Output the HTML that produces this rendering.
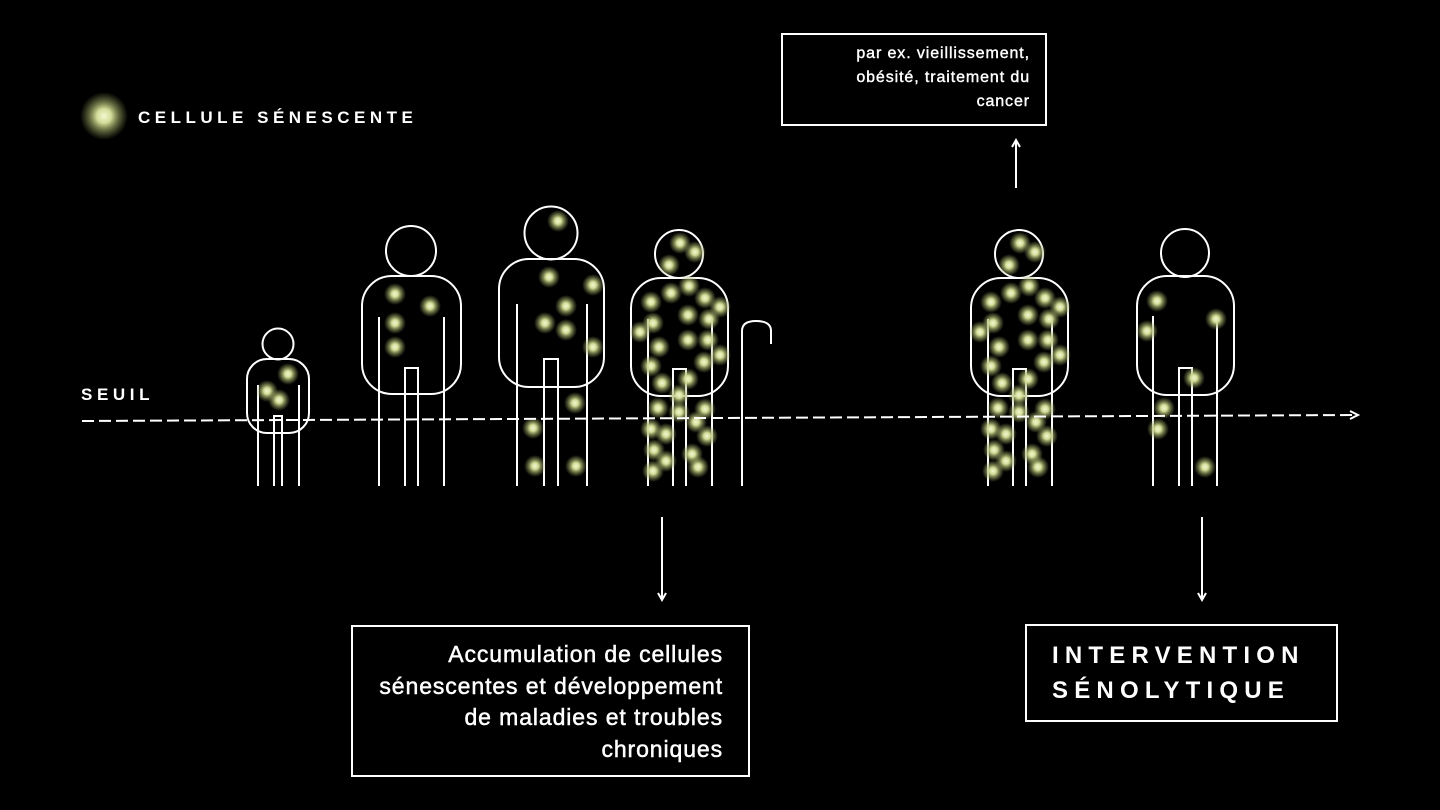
<!DOCTYPE html>
<html><head><meta charset="utf-8"><style>
html,body{margin:0;padding:0;background:#000;width:1440px;height:810px;overflow:hidden}
svg{display:block}
text{font-family:"Liberation Sans",sans-serif;fill:#fff}
</style></head><body>
<svg width="1440" height="810" viewBox="0 0 1440 810">
<defs>
<radialGradient id="g"><stop offset="0" stop-color="#f4f8d2"/><stop offset="0.3" stop-color="#d3dc98"/><stop offset="0.6" stop-color="#a8b36c" stop-opacity="0.6"/><stop offset="1" stop-color="#8f9a5a" stop-opacity="0"/></radialGradient>
<g id="elder">
<g fill="none" stroke="#fff" stroke-width="2">
<circle cx="679" cy="254" r="24"/>
<rect x="631" y="278" width="97" height="118" rx="30"/>
<path d="M648 319V486M712 319V486M673 486V369H686V486"/>
</g>
<g fill="url(#g)">
<circle cx="680" cy="243" r="11"/><circle cx="695" cy="252" r="11"/><circle cx="669" cy="265" r="11"/>
<circle cx="689" cy="286" r="11"/><circle cx="671" cy="293" r="11"/><circle cx="651" cy="302" r="11"/><circle cx="705" cy="298" r="11"/><circle cx="720" cy="307" r="11"/><circle cx="688" cy="315" r="11"/><circle cx="709" cy="319" r="11"/><circle cx="653" cy="323" r="11"/><circle cx="640" cy="332" r="11"/><circle cx="688" cy="340" r="11"/><circle cx="708" cy="340" r="11"/><circle cx="659" cy="347" r="11"/><circle cx="720" cy="355" r="11"/><circle cx="704" cy="362" r="11"/><circle cx="651" cy="366" r="11"/><circle cx="688" cy="379" r="11"/><circle cx="662" cy="383" r="11"/><circle cx="679" cy="395" r="11"/><circle cx="658" cy="408" r="11"/><circle cx="679" cy="412" r="11"/><circle cx="705" cy="409" r="11"/><circle cx="696" cy="422" r="11"/><circle cx="651" cy="429" r="11"/><circle cx="666" cy="434" r="11"/><circle cx="707" cy="436" r="11"/><circle cx="654" cy="450" r="11"/><circle cx="692" cy="454" r="11"/><circle cx="666" cy="461" r="11"/><circle cx="653" cy="471" r="11"/><circle cx="698" cy="467" r="11"/>
</g>
</g>
</defs>
<rect width="1440" height="810" fill="#000"/>
<circle cx="104" cy="116" r="24" fill="url(#g)"/>
<text x="138" y="123" font-size="17" font-weight="bold" letter-spacing="4.5">CELLULE SÉNESCENTE</text>
<text x="81" y="400" font-size="17" font-weight="bold" letter-spacing="4.6">SEUIL</text>

<g fill="none" stroke="#fff" stroke-width="2">
<circle cx="278" cy="344" r="15.5"/>
<rect x="247" y="359" width="62" height="74" rx="20"/>
<path d="M258 385V486M299 385V486M274 486V416H282V486"/>
<circle cx="411" cy="251" r="25"/>
<rect x="362" y="276" width="99" height="118" rx="30"/>
<path d="M379 317V486M444 317V486M405 486V368H418V486"/>
<circle cx="551" cy="233" r="26.5"/>
<rect x="499" y="259" width="105" height="128" rx="30"/>
<path d="M517 304V486M587 304V486M544 486V359H558V486"/>
<path d="M742 486V331Q742 321 756 321Q771 321 771 331V344"/>
<circle cx="1185" cy="253" r="24"/>
<rect x="1137" y="276" width="97" height="119" rx="30"/>
<path d="M1153 316V486M1217 316V486M1179 486V368H1192V486"/>
</g>
<use href="#elder"/>
<use href="#elder" transform="translate(340,0)"/>

<g fill="url(#g)">
<circle cx="288" cy="374" r="11"/><circle cx="267" cy="391" r="11"/><circle cx="279" cy="400" r="11"/>
<circle cx="395" cy="294" r="11"/><circle cx="430" cy="306" r="11"/><circle cx="395" cy="323" r="11"/><circle cx="395" cy="347" r="11"/>
<circle cx="558" cy="221" r="11"/><circle cx="549" cy="277" r="11"/><circle cx="593" cy="285" r="11"/><circle cx="566" cy="306" r="11"/><circle cx="545" cy="323" r="11"/><circle cx="566" cy="330" r="11"/><circle cx="593" cy="347" r="11"/><circle cx="575" cy="403" r="11"/><circle cx="533" cy="428" r="11"/><circle cx="535" cy="466" r="11"/><circle cx="576" cy="466" r="11"/>
<circle cx="1157" cy="301" r="11"/><circle cx="1216" cy="319" r="11"/><circle cx="1147" cy="331" r="11"/><circle cx="1194" cy="378" r="11"/><circle cx="1164" cy="408" r="11"/><circle cx="1158" cy="429" r="11"/><circle cx="1205" cy="467" r="11"/>
</g>

<g stroke="#fff" stroke-width="2" fill="none">
<path d="M82 421L1355 415" stroke-dasharray="12 5"/>
<path d="M1350 411L1358 415L1350 419"/>
<path d="M1016 188V141M1012 147L1016 140L1020 147"/>
<path d="M662 517V599M658 593L662 600L666 593"/>
<path d="M1202 517V599M1198 593L1202 600L1206 593"/>
<rect x="782" y="34" width="264" height="91"/>
<rect x="352" y="626" width="397" height="150"/>
<rect x="1026" y="625" width="311" height="96"/>
</g>

<g font-size="16" text-anchor="end" stroke="#fff" stroke-width="0.4" letter-spacing="0.9">
<text x="1030" y="58">par ex. vieillissement,</text>
<text x="1030" y="82">obésité, traitement du</text>
<text x="1030" y="106">cancer</text>
</g>
<g font-size="23" text-anchor="end" stroke="#fff" stroke-width="0.5" letter-spacing="0.9">
<text x="723" y="662">Accumulation de cellules</text>
<text x="723" y="694">sénescentes et développement</text>
<text x="723" y="725">de maladies et troubles</text>
<text x="723" y="757">chroniques</text>
</g>
<g font-size="24" font-weight="bold" letter-spacing="6.2">
<text x="1052" y="663">INTERVENTION</text>
<text x="1052" y="698">SÉNOLYTIQUE</text>
</g>
</svg>
</body></html>
